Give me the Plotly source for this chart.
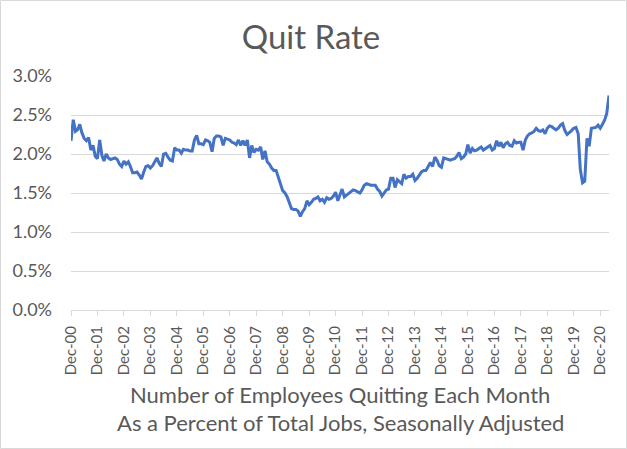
import plotly.graph_objects as go
import pandas as pd

# Monthly quit rate (%), Dec 2000 .. Apr 2021
dec2000 = [2.17]
y2001 = [2.44, 2.29, 2.31, 2.38, 2.27, 2.20, 2.17, 2.21, 2.05, 2.11, 1.97, 1.94]
y2002 = [2.18, 1.98, 1.91, 2.00, 1.95, 1.93, 1.94, 1.95, 1.93, 1.87, 1.84, 1.91]
y2003 = [1.87, 1.90, 1.84, 1.76, 1.76, 1.77, 1.73, 1.68, 1.77, 1.84, 1.85, 1.82]
y2004 = [1.85, 1.90, 1.95, 1.88, 1.84, 2.00, 2.01, 1.96, 1.92, 1.91, 2.08, 2.05]
y2005 = [2.05, 2.01, 2.06, 2.05, 2.05, 2.04, 2.04, 2.18, 2.24, 2.13, 2.13, 2.12]
y2006 = [2.18, 2.17, 2.15, 2.03, 2.20, 2.23, 2.23, 2.22, 2.11, 2.20, 2.19, 2.18]
y2007 = [2.15, 2.14, 2.12, 2.18, 2.11, 2.17, 2.11, 2.18, 1.95, 2.11, 2.02, 2.06]
y2008 = [2.05, 2.09, 1.93, 2.04, 1.90, 1.87, 1.82, 1.79, 1.79, 1.70, 1.59, 1.53]
y2009 = [1.50, 1.45, 1.38, 1.30, 1.29, 1.29, 1.27, 1.20, 1.26, 1.30, 1.40, 1.35]
y2010 = [1.38, 1.42, 1.43, 1.45, 1.40, 1.42, 1.38, 1.44, 1.42, 1.43, 1.46, 1.51]
y2011 = [1.40, 1.49, 1.55, 1.45, 1.47, 1.49, 1.52, 1.54, 1.53, 1.52, 1.50, 1.54]
y2012 = [1.60, 1.62, 1.61, 1.60, 1.60, 1.60, 1.55, 1.52, 1.46, 1.50, 1.54, 1.55]
y2013 = [1.69, 1.69, 1.57, 1.67, 1.64, 1.62, 1.74, 1.69, 1.71, 1.71, 1.74, 1.66]
y2014 = [1.69, 1.74, 1.77, 1.79, 1.79, 1.84, 1.89, 1.84, 1.96, 1.92, 1.85, 1.83]
y2015 = [1.95, 1.94, 1.93, 1.92, 1.93, 1.94, 1.97, 2.02, 1.94, 1.96, 2.00, 2.12]
y2016 = [2.01, 2.07, 2.04, 2.05, 2.07, 2.09, 2.05, 2.07, 2.09, 2.11, 2.05, 2.07]
y2017 = [2.17, 2.10, 2.15, 2.08, 2.13, 2.15, 2.11, 2.10, 2.17, 2.14, 2.15, 2.15]
y2018 = [2.05, 2.18, 2.23, 2.26, 2.27, 2.29, 2.33, 2.30, 2.29, 2.31, 2.26, 2.33]
y2019 = [2.36, 2.35, 2.33, 2.31, 2.33, 2.37, 2.39, 2.30, 2.25, 2.27, 2.30, 2.33]
y2020 = [2.34, 2.26, 1.80, 1.63, 1.65, 2.20, 2.10, 2.33, 2.34, 2.34, 2.37, 2.33]
y2021 = [2.38, 2.44, 2.52, 2.75]

quit_rate = (dec2000 + y2001 + y2002 + y2003 + y2004 + y2005 + y2006 + y2007 + y2008
             + y2009 + y2010 + y2011 + y2012 + y2013 + y2014 + y2015 + y2016 + y2017
             + y2018 + y2019 + y2020 + y2021)
months = pd.date_range("2000-12-01", periods=len(quit_rate), freq="MS")

y_tick_vals = [0.0, 0.5, 1.0, 1.5, 2.0, 2.5, 3.0]
y_tick_text = ["0.0%", "0.5%", "1.0%", "1.5%", "2.0%", "2.5%", "3.0%"]

title_text = "Quit Rate"
x_title_line1 = "Number of Employees Quitting Each Month"
x_title_line2 = "As a Percent of Total Jobs, Seasonally Adjusted"

TXT = "#595959"
GRID = "#D9D9D9"
FONT = "Lato, Open Sans, sans-serif"

fig = go.Figure()
fig.add_trace(go.Scatter(x=months, y=quit_rate, mode="lines",
                         line=dict(color="#4472C4", width=3), showlegend=False))

PH = 234.0  # plot height in px
PW = 538.0

fig.update_layout(
    width=627, height=449,
    margin=dict(l=71, r=18, t=76, b=139),
    paper_bgcolor="white", plot_bgcolor="white",
    font=dict(family=FONT, color=TXT),
    title=dict(text=title_text, x=311 / 627, xanchor="center",
               y=1 - 37 / 449, yanchor="middle",
               font=dict(size=33, color=TXT, family=FONT)),
    xaxis=dict(
        range=[months[0], months[-1]],
        tickformat="%b-%y", dtick="M12", tick0="2000-12-01",
        tickangle=-90, tickfont=dict(size=15, color=TXT),
        ticks="outside", ticklen=5, tickcolor=GRID,
        ticklabelstandoff=4,
        showline=True, linecolor=GRID, linewidth=1,
        showgrid=False, zeroline=False,
    ),
    yaxis=dict(
        range=[0, 3.0], tickmode="array", tickvals=y_tick_vals, ticktext=y_tick_text,
        tickfont=dict(size=18, color=TXT),
        showgrid=True, gridcolor=GRID, gridwidth=1,
        zeroline=False, showline=False, ticks="",
        ticklabelstandoff=18,
    ),
    annotations=[
        dict(text=x_title_line1, xref="paper", yref="paper", x=0.5, y=(310 - 394) / PH,
             xanchor="center", yanchor="middle", showarrow=False,
             font=dict(size=22, color=TXT, family=FONT)),
        dict(text=x_title_line2, xref="paper", yref="paper", x=0.5, y=(310 - 422) / PH,
             xanchor="center", yanchor="middle", showarrow=False,
             font=dict(size=22, color=TXT, family=FONT)),
    ],
    shapes=[dict(type="rect", xref="paper", yref="paper",
                 x0=(0.5 - 71) / PW, x1=(626.5 - 71) / PW,
                 y0=(310 - 448.5) / PH, y1=(310 - 0.5) / PH,
                 line=dict(color=GRID, width=1))],
)

fig.write_html("out.html", config={"displayModeBar": False},
               post_script="document.body.style.margin='0px';")
